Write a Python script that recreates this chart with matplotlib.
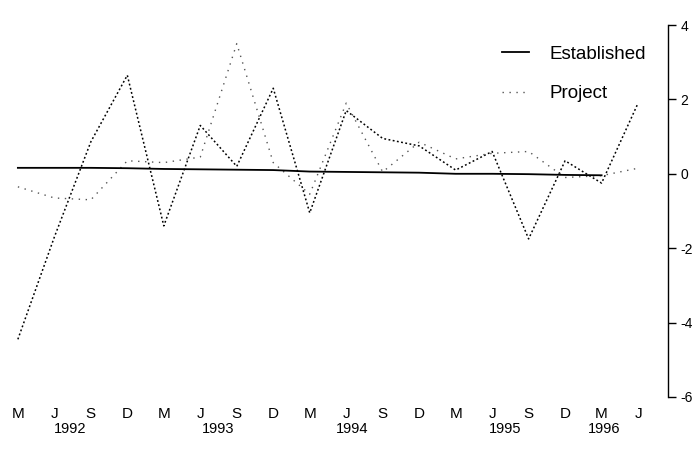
import matplotlib
matplotlib.use("Agg")
import matplotlib.pyplot as plt
import matplotlib.transforms as mtransforms

plt.rcParams["font.family"] = ["Liberation Sans", "DejaVu Sans"]

# quarterly axis, March 1992 .. June 1996
months = ["M", "J", "S", "D", "M", "J", "S", "D", "M", "J", "S", "D",
          "M", "J", "S", "D", "M", "J"]
years = ["1992", "1993", "1994", "1995", "1996"]
year_pos = [1.43, 5.48, 9.16, 13.35, 16.07]

established = [0.16, 0.16, 0.16, 0.15, 0.13, 0.12, 0.11, 0.10, 0.06, 0.05,
               0.04, 0.03, 0.00, 0.00, -0.01, -0.03, -0.04, None]
project = [-0.35, -0.65, -0.7, 0.35, 0.3, 0.45, 3.5, 0.3, -0.55, 1.9,
           0.05, 0.85, 0.4, 0.55, 0.6, -0.1, -0.05, 0.15]
combined = [-4.45, -1.7, 0.86, 2.65, -1.4, 1.3, 0.2, 2.3, -1.05, 1.7,
            0.95, 0.75, 0.1, 0.6, -1.75, 0.35, -0.25, 1.9]

x = list(range(len(months)))
est = [float("nan") if v is None else v for v in established]

fig = plt.figure(figsize=(6.98, 4.72), dpi=100)
ax = fig.add_axes([0.0, 0.159, 0.957, 0.788])

ax.plot(x, combined, color="black", lw=1.1, linestyle=(0, (1.2, 1.6)))
ax.plot(x, project, color="#555555", lw=1.0, linestyle=(0, (1, 4)), label="Project")
ax.plot(x, est, color="black", lw=1.3, label="Established")

ax.set_xlim(-0.49, 17.82)
ax.set_ylim(-6, 4)

for s in ["left", "top", "bottom"]:
    ax.spines[s].set_visible(False)
ax.spines["right"].set_linewidth(1.0)

ax.yaxis.tick_right()
ax.set_yticks([4, 2, 0, -2, -4, -6])
ax.set_yticklabels(["4", "2", "0", "-2", "-4", "-6"])
ax.tick_params(axis="y", length=6, width=1, pad=3, labelsize=10)

ax.set_xticks(x)
ax.set_xticklabels(months)
ax.tick_params(axis="x", length=0, pad=7, labelsize=11)

trans = mtransforms.blended_transform_factory(ax.transData, ax.transAxes)
for yr, xp in zip(years, year_pos):
    ax.text(xp, -0.087, yr, transform=trans, ha="center", va="center", fontsize=10.5)

handles, labels = ax.get_legend_handles_labels()
leg = ax.legend(handles[::-1], labels[::-1], loc="upper right",
                bbox_to_anchor=(0.992, 0.99), frameon=False, fontsize=13.5,
                handlelength=1.4, handletextpad=1.1, labelspacing=1.2)

fig.savefig("out.png", dpi=100)
